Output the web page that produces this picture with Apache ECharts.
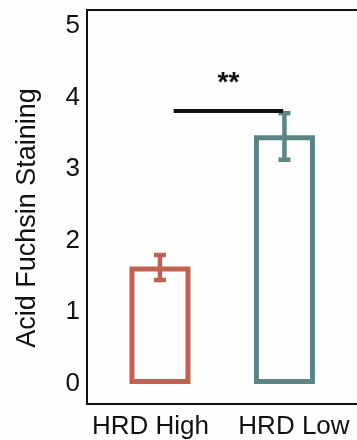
<!DOCTYPE html>
<html>
<head>
<meta charset="utf-8">
<script src="https://cdn.jsdelivr.net/npm/echarts@6/dist/echarts.min.js"></script>
<style>
html,body{margin:0;padding:0;background:#fdfdfb;}
#c{width:357px;height:440px;}
</style>
</head>
<body>
<div id="c"></div>
<script>
const categories = ['HRD High', 'HRD Low'];
const means = [1.64, 3.47];
const errLow = [1.45, 3.13];
const errHigh = [1.80, 3.78];
const barColors = ['#bf6251', '#5c8685'];
const yTicks = [0, 1, 2, 3, 4, 5];
const sigFrom = 0.11, sigTo = 0.99, sigValue = 3.81, sigLabelValue = 4.20, sigText = '**';
const yTitle = 'Acid Fuchsin Staining';

const xIdx = categories.map((c, i) => i);
const chart = echarts.init(document.getElementById('c'), null, {renderer: 'canvas'});
const font = 'Liberation Sans, Arial, sans-serif';

chart.setOption({
  backgroundColor: '#fdfdfb',
  animation: false,
  grid: {left: 87, top: 10, width: 284, height: 394, outerBoundsMode: 'none', containLabel: false, show: true, borderColor: '#111', borderWidth: 2, backgroundColor: 'transparent'},
  xAxis: {
    type: 'value', min: -0.586, max: -0.586 + 284 / 124.5,
    splitLine: {show: false},
    axisLine: {show: true, onZero: false, lineStyle: {color: '#111', width: 2}},
    axisTick: {show: false},
    axisLabel: {
      customValues: xIdx,
      margin: 10,
      color: '#111',
      fontFamily: font,
      fontSize: 26,
      formatter: function (v) {
        const i = Math.round(v);
        return '{s' + i + '|' + categories[i] + '}';
      },
      rich: {
        s0: {fontSize: 26, fontFamily: font, color: '#111', padding: [0, 19, 0, 0]},
        s1: {fontSize: 26, fontFamily: font, color: '#111', padding: [0, 0, 0, 19]}
      }
    }
  },
  yAxis: {
    type: 'value', min: -0.28, max: 5.22,
    splitLine: {show: false},
    axisLine: {show: true, onZero: false, lineStyle: {color: '#111', width: 2}},
    axisTick: {show: false},
    axisLabel: {customValues: yTicks, margin: 7, color: '#111', fontFamily: font, fontSize: 26},
    name: yTitle,
    nameLocation: 'middle',
    nameGap: 46,
    nameTextStyle: {color: '#111', fontFamily: font, fontSize: 27, padding: [0, 22, 0, 0]}
  },
  series: [
    {
      type: 'bar',
      barWidth: 61,
      data: means.map((m, i) => ({value: [xIdx[i], m], itemStyle: {color: 'rgba(0,0,0,0)', borderColor: barColors[i], borderWidth: 5}})),
      z: 2
    },
    {
      type: 'custom',
      data: means.map((m, i) => [xIdx[i], errLow[i], errHigh[i]]),
      renderItem: function (params, api) {
        const x = api.value(0);
        const lo = api.coord([x, api.value(1)]);
        const hi = api.coord([x, api.value(2)]);
        const c = barColors[params.dataIndex];
        const hw = 6;
        const st = {stroke: c, lineWidth: 4.5};
        return {type: 'group', children: [
          {type: 'line', shape: {x1: lo[0], y1: lo[1], x2: hi[0], y2: hi[1]}, style: st},
          {type: 'line', shape: {x1: lo[0] - hw, y1: lo[1], x2: lo[0] + hw, y2: lo[1]}, style: st},
          {type: 'line', shape: {x1: hi[0] - hw, y1: hi[1], x2: hi[0] + hw, y2: hi[1]}, style: st}
        ]};
      },
      z: 3
    },
    {
      type: 'line',
      data: [[sigFrom, sigValue], [sigTo, sigValue]],
      symbol: 'none',
      lineStyle: {color: '#111', width: 4},
      z: 4
    },
    {
      type: 'custom',
      data: [[(sigFrom + sigTo) / 2, sigLabelValue]],
      renderItem: function (params, api) {
        const p = api.coord([api.value(0), api.value(1)]);
        return {type: 'text', x: p[0], y: p[1], style: {text: sigText, fill: '#111', font: 'bold 28px ' + font, align: 'center', verticalAlign: 'middle'}};
      },
      z: 4
    }
  ]
});
</script>
</body>
</html>
